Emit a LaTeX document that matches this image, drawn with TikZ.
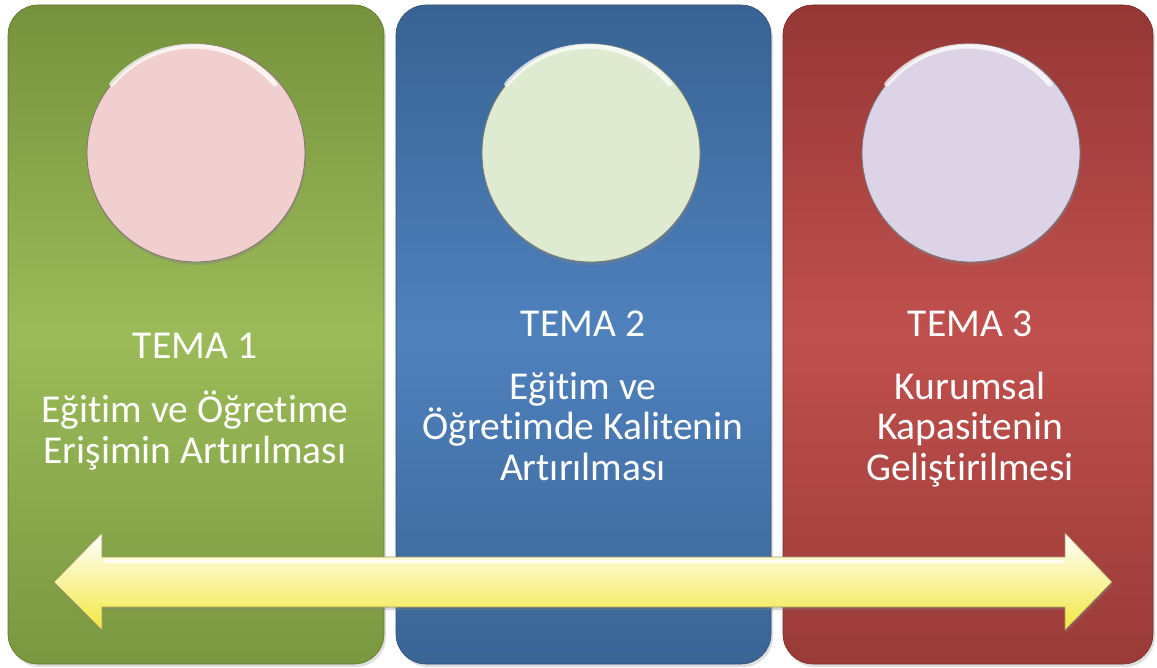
\documentclass[tikz,border=0pt]{standalone}
\usepackage{fontspec}
\setmainfont{Carlito}[Ligatures=NoCommon]
\usetikzlibrary{shadows}
\definecolor{gTop}{HTML}{76923C}
\definecolor{gMid}{HTML}{9BBB59}
\definecolor{gBot}{HTML}{7A9840}
\definecolor{bTop}{HTML}{386393}
\definecolor{bMid}{HTML}{4F81BD}
\definecolor{bBot}{HTML}{3A6595}
\definecolor{rTop}{HTML}{953735}
\definecolor{rMid}{HTML}{C0504D}
\definecolor{rBot}{HTML}{9A3B38}
\definecolor{pinkC}{HTML}{F0CFCE}
\definecolor{greenC}{HTML}{DEEBD0}
\definecolor{lilacC}{HTML}{DCD4E6}
\definecolor{arrowY}{HTML}{F2E840}
\definecolor{arrowL}{HTML}{F8E9A2}
\definecolor{arrowE}{HTML}{A89A5A}
\tikzset{
  panel/.style={rectangle, rounded corners=30pt, minimum height=659pt,
    draw=#1!80!black, line width=0.6pt,
    drop shadow={opacity=0.25, shadow xshift=2pt, shadow yshift=-3pt}},
  disc/.style={circle, minimum size=218pt, inner sep=0pt, fill=#1,
    draw=#1!55!black, line width=0.8pt,
    drop shadow={opacity=0.35, shadow xshift=1pt, shadow yshift=-3pt}},
  tema/.style={anchor=base, text=white, font=\fontsize{39.5}{40.5}\selectfont, inner sep=0pt},
  body/.style={anchor=base, text=white, font=\fontsize{39.5}{40.5}\selectfont, align=center, inner sep=0pt},
}
\begin{document}
\begin{tikzpicture}[x=1pt,y=-1pt]
\path[fill=white] (0,0) rectangle (1157,668);
\useasboundingbox (0,0) rectangle (1157,668);
% panels
\node[panel=gTop, minimum width=376pt, top color=gTop, bottom color=gBot, middle color=gMid] (p1) at (196,334.5) {};
\node[panel=bTop, minimum width=375pt, top color=bTop, bottom color=bBot, middle color=bMid] (p2) at (583.5,334.5) {};
\node[panel=rTop, minimum width=370pt, top color=rTop, bottom color=rBot, middle color=rMid] (p3) at (968,334.5) {};
% discs
\node[disc=pinkC] (c1) at (196,153) {};
\node[disc=greenC] (c2) at (591,153) {};
\node[disc=lilacC] (c3) at (971,153) {};
\foreach \c in {c1,c2,c3}{
  \draw[white, line width=5pt, opacity=0.75, line cap=round]
    ([shift={(-0.5,1.5)}]\c.140) arc[start angle=140, end angle=40, radius=106.5pt];
}
% texts
\node[tema] (t1) at (195,359) {TEMA 1};
\node[body] (b1) at (195,463) {Eğitim ve Öğretime\\Erişimin Artırılması};
\node[tema] (t2) at (583,337) {TEMA 2};
\node[body] (b2) at (583,480) {Eğitim ve\\Öğretimde Kalitenin\\Artırılması};
\node[tema] (t3) at (970,337) {TEMA 3};
\node[body] (b3) at (970,480) {Kurumsal\\Kapasitenin\\Geliştirilmesi};
% double arrow
\coordinate (aL) at (54,582);
\coordinate (aR) at (1112,582);
\shade[top color=white, middle color=arrowL, bottom color=arrowY,
  draw=arrowE, line width=0.6pt, line join=miter,
  drop shadow={opacity=0.35, shadow xshift=1pt, shadow yshift=-3pt}]
  (aL) -- (102,533) -- (102,557) -- (1065,557) -- (1065,533) -- (aR)
  -- (1065,630) -- (1065,607) -- (102,607) -- (102,630) -- cycle;
\draw[white, line width=3pt, opacity=0.85] (104,561) -- (1063,561);
\end{tikzpicture}
\end{document}
